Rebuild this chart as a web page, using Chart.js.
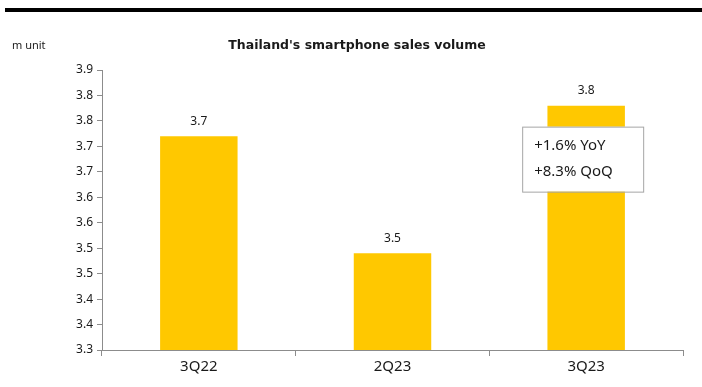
<!DOCTYPE html>
<html>
<head>
<meta charset="utf-8">
<script src="https://cdn.jsdelivr.net/npm/chart.js@4/dist/chart.umd.min.js"></script>
<style>
  html, body { margin: 0; padding: 0; background: #fff; }
  #wrap { position: relative; width: 702px; height: 387px; }
  #topbar { position: absolute; left: 5px; right: 0; top: 8px; height: 4px; background: #000; }
</style>
</head>
<body>
<div id="wrap">
  <div id="topbar"></div>
  <canvas id="c" width="702" height="387"></canvas>
</div>
<script>
const QUARTERS = ['3Q22', '2Q23', '3Q23'];
const VOLUMES = [3.72, 3.49, 3.78];
const GROWTH_NOTES = ['+1.6% YoY', '+8.3% QoQ'];
const Y_MIN = 3.3;
const Y_MAX = 3.85;
const Y_STEP = 0.05;

const BAR_COLOR = '#FFC800';
const AXIS_COLOR = '#8C8C8C';
const TEXT_COLOR = '#1A1A1A';
const SANS = '"Noto Sans", "Open Sans", sans-serif';
const TITLE_FONT = '"DejaVu Sans", sans-serif';

function oneDecimal(v) {
  return (Math.round(v * 10 + 1e-6) / 10).toFixed(1);
}

// title, unit label, value labels and the growth callout
const overlay = {
  id: 'overlay',
  afterDatasetsDraw(chart) {
    const { ctx } = chart;
    ctx.save();
    ctx.fillStyle = TEXT_COLOR;
    ctx.textBaseline = 'middle';

    ctx.font = '11px ' + SANS;
    ctx.textAlign = 'left';
    ctx.fillText('m unit', 12, 46);

    ctx.font = 'bold 12.5px ' + TITLE_FONT;
    ctx.textAlign = 'center';
    ctx.fillText("Thailand's smartphone sales volume", 357, 46);

    const meta = chart.getDatasetMeta(0);
    ctx.font = '12px ' + SANS;
    meta.data.forEach((bar, i) => {
      ctx.fillText(oneDecimal(VOLUMES[i]), bar.x, bar.y - 15);
    });

    const last = meta.data[meta.data.length - 1];
    const bx = last.x - 64;
    const by = last.y + 21;
    const bw = 121;
    const bh = 65;
    ctx.fillStyle = '#fff';
    ctx.fillRect(bx, by, bw, bh);
    ctx.strokeStyle = '#A6A6A6';
    ctx.lineWidth = 1;
    ctx.strokeRect(bx + 0.5, by + 0.5, bw, bh);
    ctx.fillStyle = TEXT_COLOR;
    ctx.font = '15px ' + SANS;
    ctx.textAlign = 'left';
    GROWTH_NOTES.forEach((t, i) => {
      ctx.fillText(t, bx + 12, by + 19 + i * 26);
    });
    ctx.restore();
  },
};

new Chart(document.getElementById('c'), {
  type: 'bar',
  data: {
    labels: QUARTERS,
    datasets: [{
      data: VOLUMES,
      backgroundColor: BAR_COLOR,
      borderWidth: 0,
      barPercentage: 1,
      categoryPercentage: 0.4,
    }],
  },
  options: {
    responsive: false,
    animation: false,
    layout: { padding: { top: 70, right: 19, left: 0, bottom: 0 } },
    plugins: { legend: { display: false }, tooltip: { enabled: false } },
    scales: {
      x: {
        grid: {
          offset: true,
          drawOnChartArea: false,
          color: AXIS_COLOR,
          tickLength: 6,
        },
        border: { color: AXIS_COLOR },
        ticks: { color: TEXT_COLOR, font: { family: SANS, size: 15 }, padding: 2 },
        afterFit(scale) { scale.height = 37; },
      },
      y: {
        min: Y_MIN,
        max: Y_MAX,
        grid: {
          drawOnChartArea: false,
          color: AXIS_COLOR,
          tickLength: 5,
        },
        border: { color: AXIS_COLOR },
        ticks: {
          stepSize: Y_STEP,
          color: TEXT_COLOR,
          font: { family: SANS, size: 12 },
          padding: 4,
          callback: (v) => oneDecimal(v),
        },
        afterFit(scale) { scale.width = 102; },
      },
    },
  },
  plugins: [overlay],
});
</script>
</body>
</html>
